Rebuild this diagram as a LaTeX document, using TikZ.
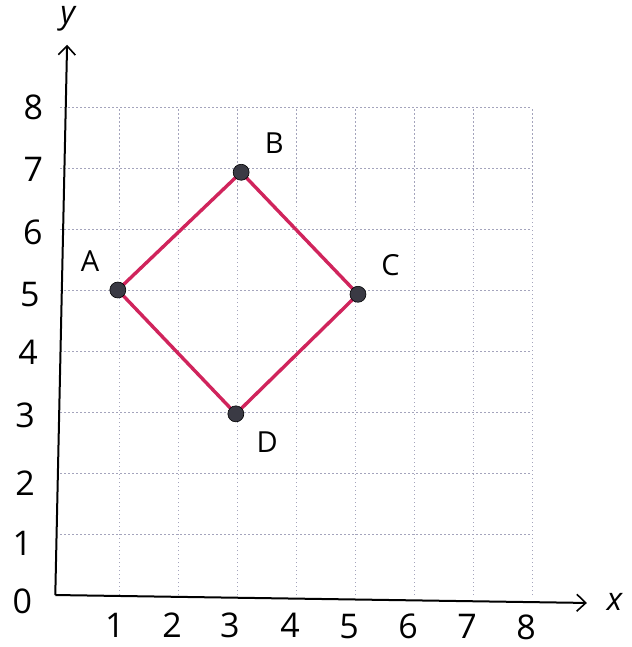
\documentclass[tikz,border=0pt]{standalone}
\usepackage{fontspec}
\setmainfont{Open Sans}
\usetikzlibrary{arrows.meta}
\definecolor{polyred}{HTML}{D0245C}
\definecolor{dotgray}{HTML}{3A3A44}
\definecolor{gridc}{HTML}{A4A4BC}
\tikzset{
  x=59pt, y=61pt,
  gridline/.style={gridc, line width=0.7pt, dash pattern=on 1.5pt off 2.5pt},
  axis/.style={black, line width=2pt, -{Straight Barb[length=9pt,width=17pt,line width=1.6pt]}},
  polyline/.style={polyred, line width=3.4pt, line join=round},
  vdot/.style={circle, fill=dotgray, draw=black, line width=0.6pt, inner sep=0pt, minimum size=16pt},
  num/.style={font=\fontsize{34}{34}\selectfont, inner sep=0pt},
  ptlab/.style={font=\fontsize{29}{29}\selectfont, inner sep=0pt},
  axlab/.style={font=\fontsize{32}{32}\selectfont\itshape, inner sep=0pt}
}
\begin{document}
\begin{tikzpicture}
\useasboundingbox (-1.017,-0.852) rectangle (9.678,9.754);
% grid
\foreach \i in {1,...,8} {
  \draw[gridline] (\i,0) -- (\i,8);
  \draw[gridline] (0,\i) -- (8,\i);
}
% axes
\coordinate (O) at (-0.08,0);
\coordinate (Ytip) at (0.12,9.02);
\coordinate (Xtip) at (8.93,-0.13);
\draw[axis] (O) -- (Ytip);
\draw[axis] (O) -- (Xtip);
\node[axlab] (ylab) at (0.13,9.45) {y};
\node[axlab] (xlab) at (9.4,-0.12) {x};
% y numbers
\node[num] (y8) at (-0.45,8.0) {8};
\node[num] (y7) at (-0.45,6.97) {7};
\node[num] (y6) at (-0.46,5.95) {6};
\node[num] (y5) at (-0.51,4.92) {5};
\node[num] (y4) at (-0.54,3.98) {4};
\node[num] (y3) at (-0.59,2.95) {3};
\node[num] (y2) at (-0.59,1.84) {2};
\node[num] (y1) at (-0.64,0.85) {1};
\node[num] (y0) at (-0.64,-0.1) {0};
% x numbers
\node[num] (x1) at (0.93,-0.5) {1};
\node[num] (x2) at (1.9,-0.5) {2};
\node[num] (x3) at (2.88,-0.5) {3};
\node[num] (x4) at (3.9,-0.5) {4};
\node[num] (x5) at (4.9,-0.52) {5};
\node[num] (x6) at (5.9,-0.52) {6};
\node[num] (x7) at (6.9,-0.52) {7};
\node[num] (x8) at (7.9,-0.53) {8};
% square
\coordinate (A) at (0.98,5.0);
\coordinate (B) at (3.07,6.93);
\coordinate (C) at (5.05,4.93);
\coordinate (D) at (2.98,2.97);
\draw[polyline] (A) -- (B) -- (C) -- (D) -- cycle;
\node[vdot] (dA) at (A) {};
\node[vdot] (dB) at (B) {};
\node[vdot] (dC) at (C) {};
\node[vdot] (dD) at (D) {};
\node[ptlab] (lA) at (0.51,5.47) {A};
\node[ptlab] (lB) at (3.63,7.4) {B};
\node[ptlab] (lC) at (5.6,5.41) {C};
\node[ptlab] (lD) at (3.51,2.5) {D};
\end{tikzpicture}
\end{document}
